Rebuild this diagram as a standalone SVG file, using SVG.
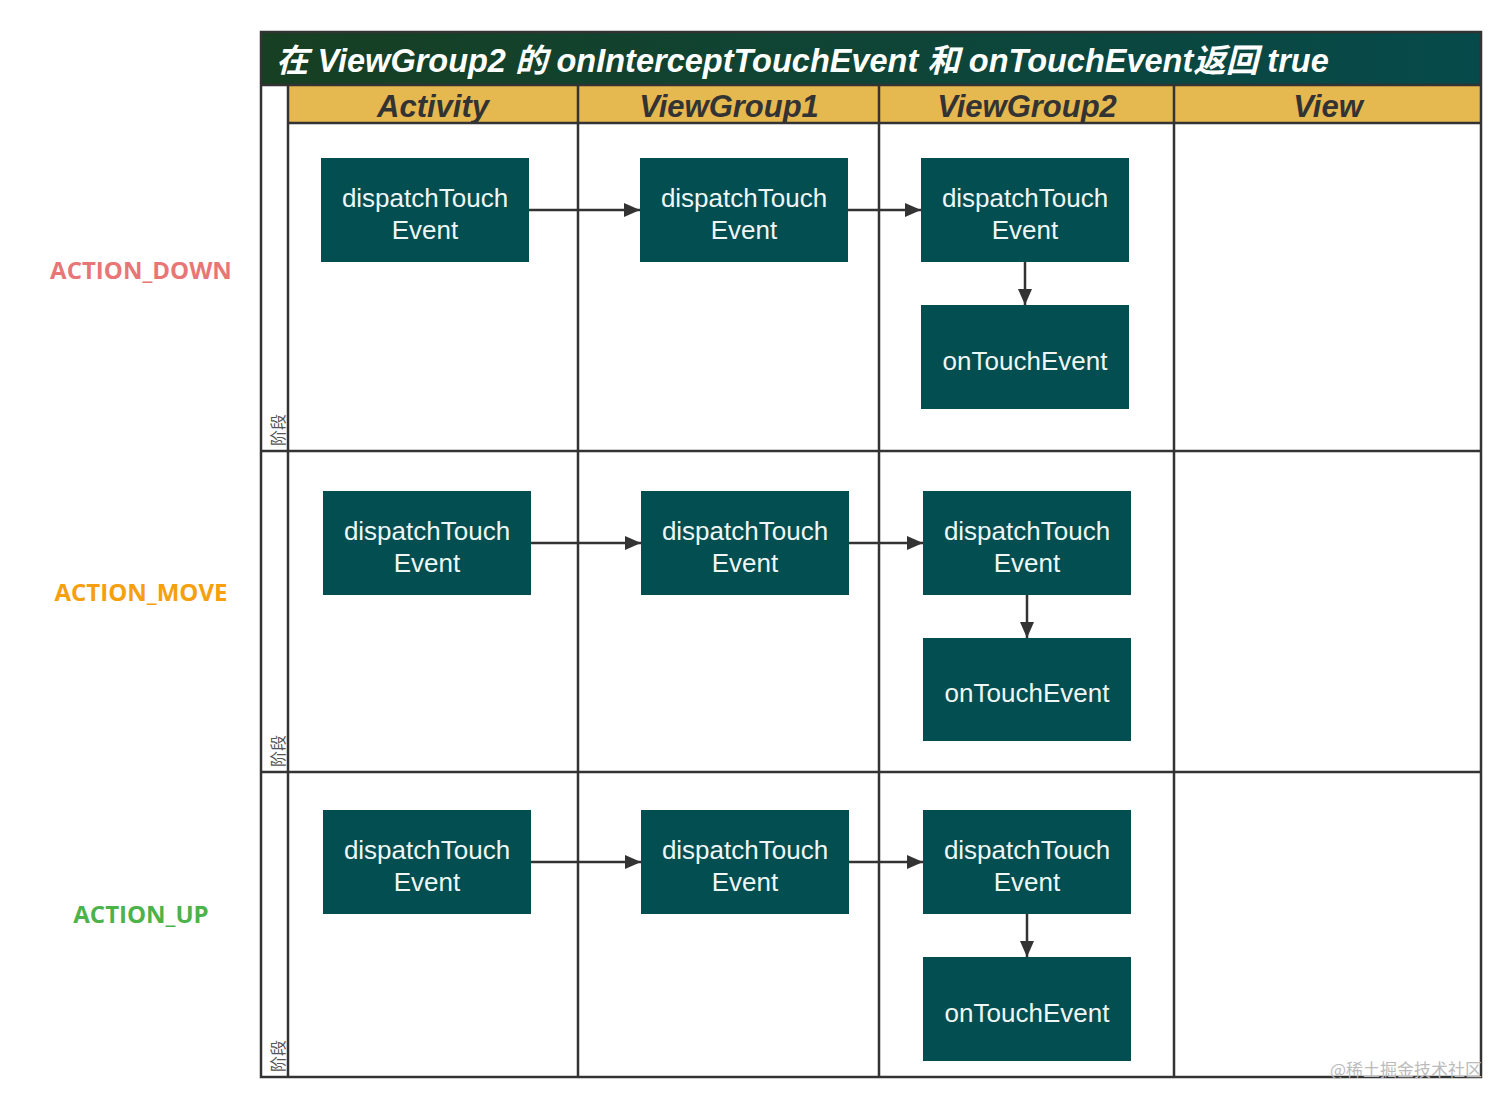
<svg xmlns="http://www.w3.org/2000/svg" width="1512" height="1109" viewBox="0 0 1512 1109">
<style>
.node rect{fill:#034e50;}
.node text{fill:#eef7f6;font-family:"Liberation Sans",Arial,sans-serif;font-size:26px;text-anchor:middle;}
.hdr{fill:#333;font-family:"Liberation Sans",Arial,sans-serif;font-size:31px;font-weight:bold;font-style:italic;text-anchor:middle;}
.grid{stroke:#333;stroke-width:2.5;fill:none;}
.conn line{stroke:#333;stroke-width:2.5;}
.stage{fill:#555;font-family:"Noto Sans CJK SC",sans-serif;font-size:16px;}
.act{font-family:"Open Sans","Noto Sans",sans-serif;font-size:24px;font-weight:bold;text-anchor:middle;}
</style>
<defs>
<linearGradient id="tg" x1="0" y1="0" x2="1" y2="0">
<stop offset="0" stop-color="#173f22"/>
<stop offset="1" stop-color="#064a4b"/>
</linearGradient>
<marker id="ahs" markerWidth="16" markerHeight="14" refX="16" refY="7" orient="auto" markerUnits="userSpaceOnUse" viewBox="0 0 16 14">
<path d="M0,0 L16,7 L0,14 z" fill="#333"/>
</marker>
</defs>
<rect width="1512" height="1109" fill="#fff"/>
<g id="frame">
<rect x="261" y="32" width="1220" height="53" fill="url(#tg)"/>
<text x="276" y="72" fill="#fff" font-family="'Liberation Sans','Noto Sans CJK SC',sans-serif" font-size="32.5" font-weight="bold" font-style="italic">在 ViewGroup2 的 onInterceptTouchEvent 和 onTouchEvent返回 true</text>
<rect x="288" y="85" width="1193" height="38" fill="#e6b850"/>
<text class="hdr" x="433" y="117">Activity</text>
<text class="hdr" x="729" y="117">ViewGroup1</text>
<text class="hdr" x="1027" y="117">ViewGroup2</text>
<text class="hdr" x="1328" y="117">View</text>
<rect class="grid" x="261" y="32" width="1220" height="1045"/>
<line class="grid" x1="261" y1="85" x2="1481" y2="85"/>
<line class="grid" x1="288" y1="123" x2="1481" y2="123"/>
<line class="grid" x1="288" y1="85" x2="288" y2="1077"/>
<line class="grid" x1="578" y1="85" x2="578" y2="1077"/>
<line class="grid" x1="879" y1="85" x2="879" y2="1077"/>
<line class="grid" x1="1174" y1="85" x2="1174" y2="1077"/>
<line class="grid" x1="261" y1="451" x2="1481" y2="451"/>
<line class="grid" x1="261" y1="772" x2="1481" y2="772"/>
<text class="stage" transform="translate(284,446) rotate(-90)">阶段</text>
<text class="stage" transform="translate(284,767) rotate(-90)">阶段</text>
<text class="stage" transform="translate(284,1072) rotate(-90)">阶段</text>
</g>
<g id="labels">
<text class="act" x="141" y="279" fill="#e87676">ACTION_DOWN</text>
<text class="act" x="141" y="601" fill="#f5a00c">ACTION_MOVE</text>
<text class="act" x="141" y="923" fill="#4cb34a">ACTION_UP</text>
</g>
<g class="conn" id="connectors">
<line x1="529" y1="210" x2="640" y2="210" marker-end="url(#ahs)"/>
<line x1="848" y1="210" x2="921" y2="210" marker-end="url(#ahs)"/>
<line x1="1025" y1="262" x2="1025" y2="305" marker-end="url(#ahs)"/>
<line x1="531" y1="543" x2="641" y2="543" marker-end="url(#ahs)"/>
<line x1="849" y1="543" x2="923" y2="543" marker-end="url(#ahs)"/>
<line x1="1027" y1="595" x2="1027" y2="638" marker-end="url(#ahs)"/>
<line x1="531" y1="862" x2="641" y2="862" marker-end="url(#ahs)"/>
<line x1="849" y1="862" x2="923" y2="862" marker-end="url(#ahs)"/>
<line x1="1027" y1="914" x2="1027" y2="957" marker-end="url(#ahs)"/>
</g>
<g id="n1" class="node"><rect x="321" y="158" width="208" height="104"/><text x="425" y="207">dispatchTouch</text><text x="425" y="239">Event</text></g>
<g id="n2" class="node"><rect x="640" y="158" width="208" height="104"/><text x="744" y="207">dispatchTouch</text><text x="744" y="239">Event</text></g>
<g id="n3" class="node"><rect x="921" y="158" width="208" height="104"/><text x="1025" y="207">dispatchTouch</text><text x="1025" y="239">Event</text></g>
<g id="n4" class="node"><rect x="921" y="305" width="208" height="104"/><text x="1025" y="370">onTouchEvent</text></g>
<g id="n5" class="node"><rect x="323" y="491" width="208" height="104"/><text x="427" y="540">dispatchTouch</text><text x="427" y="572">Event</text></g>
<g id="n6" class="node"><rect x="641" y="491" width="208" height="104"/><text x="745" y="540">dispatchTouch</text><text x="745" y="572">Event</text></g>
<g id="n7" class="node"><rect x="923" y="491" width="208" height="104"/><text x="1027" y="540">dispatchTouch</text><text x="1027" y="572">Event</text></g>
<g id="n8" class="node"><rect x="923" y="638" width="208" height="103"/><text x="1027" y="702">onTouchEvent</text></g>
<g id="n9" class="node"><rect x="323" y="810" width="208" height="104"/><text x="427" y="859">dispatchTouch</text><text x="427" y="891">Event</text></g>
<g id="n10" class="node"><rect x="641" y="810" width="208" height="104"/><text x="745" y="859">dispatchTouch</text><text x="745" y="891">Event</text></g>
<g id="n11" class="node"><rect x="923" y="810" width="208" height="104"/><text x="1027" y="859">dispatchTouch</text><text x="1027" y="891">Event</text></g>
<g id="n12" class="node"><rect x="923" y="957" width="208" height="104"/><text x="1027" y="1022">onTouchEvent</text></g>
<text x="1482" y="1076" fill="#bbb" font-family="'Noto Sans CJK SC',sans-serif" font-size="17" text-anchor="end">@稀土掘金技术社区</text>
</svg>
